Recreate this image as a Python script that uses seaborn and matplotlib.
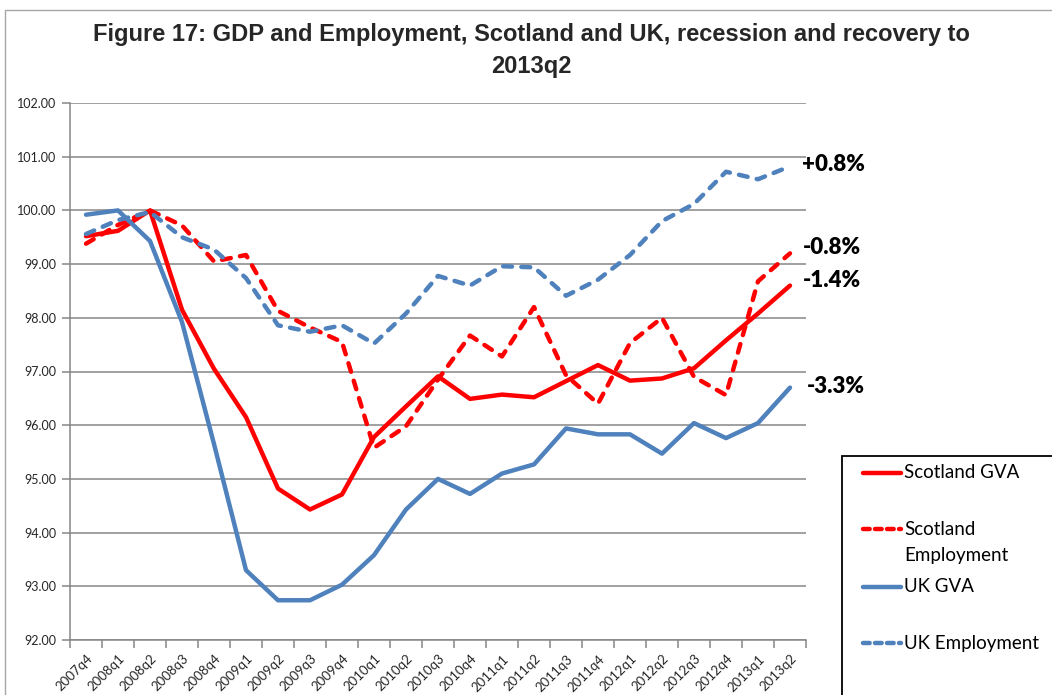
import numpy as np
import pandas as pd
import seaborn as sns
import matplotlib.pyplot as plt
from matplotlib.lines import Line2D
from matplotlib.patches import Rectangle

quarters = ['2007q4', '2008q1', '2008q2', '2008q3', '2008q4', '2009q1', '2009q2',
            '2009q3', '2009q4', '2010q1', '2010q2', '2010q3', '2010q4', '2011q1',
            '2011q2', '2011q3', '2011q4', '2012q1', '2012q2', '2012q3', '2012q4',
            '2013q1', '2013q2']

scotland_gva = [99.52, 99.62, 100.00, 98.15, 97.05, 96.15, 94.82, 94.43, 94.71, 95.78,
                96.35, 96.91, 96.49, 96.57, 96.52, 96.82, 97.12, 96.83, 96.87, 97.06,
                97.58, 98.08, 98.60]
scotland_emp = [99.38, 99.73, 100.00, 99.72, 99.05, 99.17, 98.13, 97.82, 97.55, 95.58,
                95.98, 96.85, 97.67, 97.28, 98.20, 96.93, 96.40, 97.53, 98.00, 96.90,
                96.56, 98.68, 99.20]
uk_gva = [99.92, 100.00, 99.43, 97.92, 95.65, 93.30, 92.74, 92.74, 93.03, 93.58,
          94.43, 95.00, 94.72, 95.10, 95.27, 95.94, 95.83, 95.83, 95.47, 96.04,
          95.76, 96.04, 96.70]
uk_emp = [99.56, 99.82, 99.97, 99.50, 99.27, 98.74, 97.86, 97.74, 97.86, 97.52,
          98.08, 98.78, 98.60, 98.96, 98.94, 98.41, 98.71, 99.17, 99.80, 100.12,
          100.72, 100.58, 100.82]

series_names = ['Scotland GVA', 'Scotland\nEmployment', 'UK GVA', 'UK Employment']
series_values = [scotland_gva, scotland_emp, uk_gva, uk_emp]
end_labels = ['-1.4%', '-0.8%', '-3.3%', '+0.8%']

RED = '#FF0000'
BLUE = '#4F81BD'
GRID = '#868686'
colors = [RED, RED, BLUE, BLUE]
dashed = [False, True, False, True]
label_offsets = [(9, 4), (9, 4), (12, 1), (9, 1)]  # points

sns.set_theme(style='white')
plt.rcParams['font.family'] = ['Lato', 'DejaVu Sans']

fig = plt.figure(figsize=(10.52, 6.95), dpi=100)
W, H = 1052, 695
ax = fig.add_axes([70 / W, 1 - 640 / H, (806 - 70) / W, (640 - 103) / H])

x_pos = np.arange(len(quarters))
LW = 3.2
DASH = (2.0, 2.1)
for name, vals, col, dsh in zip(series_names, series_values, colors, dashed):
    df = pd.DataFrame({'pos': x_pos, 'value': vals})
    sns.lineplot(data=df, x='pos', y='value', ax=ax, color=col, linewidth=LW,
                 legend=False, zorder=3)
    line = ax.get_lines()[-1]
    if dsh:
        line.set_dashes(DASH)
        line.set_dash_capstyle('round')
    else:
        line.set_solid_capstyle('round')
    line.set_solid_joinstyle('round')

# value labels at the end of each series
for vals, txt, off in zip(series_values, end_labels, label_offsets):
    ax.annotate(txt, xy=(x_pos[-1], vals[-1]), xytext=off, textcoords='offset points',
                ha='left', va='center', fontsize=16, fontweight='heavy', color='black',
                annotation_clip=False)

ax.set_xlim(-0.5, len(quarters) - 0.5)
ax.set_ylim(92, 102)
ax.set_yticks(np.arange(92, 102.01, 1))
ax.set_yticklabels([f'{v:.2f}' for v in np.arange(92, 102.01, 1)], fontsize=9)
ax.set_xticks(x_pos)
ax.set_xticklabels(quarters, rotation=45, ha='right', rotation_mode='anchor', fontsize=9.5)
ax.set_xticks(np.arange(-0.5, len(quarters), 1), minor=True)
ax.tick_params(axis='x', which='major', length=0, pad=9)
ax.tick_params(axis='x', which='minor', length=6, width=1.1, color=GRID, direction='out',
               bottom=True)
ax.tick_params(axis='y', length=6, width=1.1, color=GRID, direction='out', left=True, pad=4)
ax.set_xlabel('')
ax.set_ylabel('')

ax.grid(axis='y', color=GRID, linewidth=1.1, zorder=0)
ax.grid(axis='x', visible=False)
ax.set_axisbelow(True)
for side in ['top', 'right']:
    ax.spines[side].set_visible(False)
for side in ['left', 'bottom']:
    ax.spines[side].set_color(GRID)
    ax.spines[side].set_linewidth(1.1)

# outer chart frame
fig.add_artist(Rectangle((5 / W, -0.1), 1.2, 1 - 10 / H + 0.1, transform=fig.transFigure,
                         fill=False, edgecolor='#A6A6A6', linewidth=1.0, zorder=0))

# title
title_font = dict(family=['Liberation Sans', 'DejaVu Sans'], fontsize=17,
                  fontweight='bold', ha='center', va='center')
fig.text(531 / W, 1 - 35 / H,
         'Figure 17: GDP and Employment, Scotland and UK, recession and recovery to',
         **title_font)
fig.text(531 / W, 1 - 67 / H, '2013q2', **title_font)

# legend box
fig.add_artist(Rectangle((842 / W, -0.1), 0.3, 1 - 456 / H + 0.1, transform=fig.transFigure,
                         fill=False, edgecolor='black', linewidth=1.3, zorder=5))
legend_rows = [473, 529, 587, 643]
for name, col, dsh, yy in zip(series_names, colors, dashed, legend_rows):
    yf = 1 - yy / H
    ln = Line2D([863 / W, 901 / W], [yf, yf], transform=fig.transFigure, color=col,
                linewidth=LW, zorder=6)
    if dsh:
        ln.set_dashes((1.5, 1.2))
        ln.set_dash_capstyle('round')
    fig.add_artist(ln)
    if '\n' in name:
        fig.text(904 / W, 1 - (yy - 8) / H, name, fontsize=13.5, ha='left', va='top',
                 linespacing=1.65, color='black')
    else:
        fig.text(904 / W, yf, name, fontsize=13.5, ha='left', va='center', color='black')

fig.savefig('out.png', dpi=100)
